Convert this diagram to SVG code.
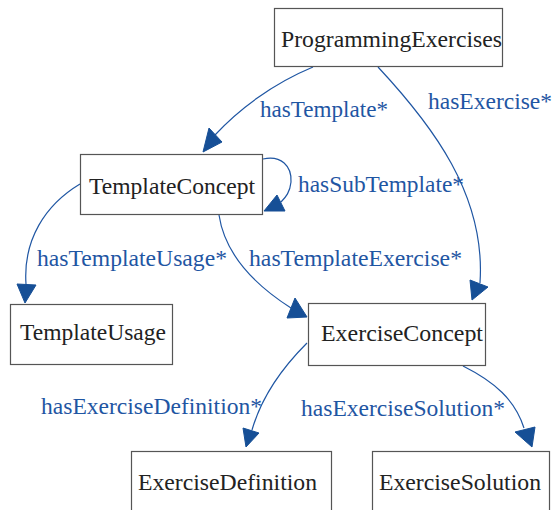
<svg xmlns="http://www.w3.org/2000/svg" width="555" height="510" viewBox="0 0 555 510">
<style>
.box{fill:#ffffff;stroke:#555555;stroke-width:1.2}
.nt{font-family:"Liberation Serif","Times New Roman",serif;font-size:24px;fill:#222222}
.lt{font-family:"Liberation Serif","Times New Roman",serif;font-size:24px;fill:#1f56a3}
.edge{fill:none;stroke:#1f56a3;stroke-width:1.2}
.head{fill:#164f96;stroke:#164f96;stroke-width:1}
</style>
<rect width="555" height="510" fill="#ffffff"/>
<g id="connectors">
  <g id="e-hasTemplate">
    <path class="edge" d="M313,67 C272,84 238,110 215,135"/>
    <polygon class="head" points="209,128 222,142 203,152"/>
    <text class="lt" x="260" y="117" textLength="128" lengthAdjust="spacingAndGlyphs">hasTemplate*</text>
  </g>
  <g id="e-hasExercise">
    <path class="edge" d="M378,67 C432,125 486,195 480,283"/>
    <polygon class="head" points="470,280 488,287 472,300"/>
    <text class="lt" x="428" y="109" textLength="124" lengthAdjust="spacingAndGlyphs">hasExercise*</text>
  </g>
  <g id="e-hasSubTemplate">
    <path class="edge" d="M263,159 C281,155 292,166 291,182 C290,192 286,197 281,202"/>
    <polygon class="head" points="277,195 285,211 264,211"/>
    <text class="lt" x="298" y="192" textLength="166" lengthAdjust="spacingAndGlyphs">hasSubTemplate*</text>
  </g>
  <g id="e-hasTemplateUsage">
    <path class="edge" d="M80,184 C45,205 23,240 26,284"/>
    <polygon class="head" points="17,284 36,285 25,303"/>
    <text class="lt" x="37" y="266" textLength="190" lengthAdjust="spacingAndGlyphs">hasTemplateUsage*</text>
  </g>
  <g id="e-hasTemplateExercise">
    <path class="edge" d="M219,215 C225,255 255,285 291,308"/>
    <polygon class="head" points="295,298 287,318 307,317"/>
    <text class="lt" x="249" y="266" textLength="213" lengthAdjust="spacingAndGlyphs">hasTemplateExercise*</text>
  </g>
  <g id="e-hasExerciseDefinition">
    <path class="edge" d="M307,343 C285,365 262,395 252,430"/>
    <polygon class="head" points="243,428 259,433 246,447"/>
    <text class="lt" x="41" y="414" textLength="221" lengthAdjust="spacingAndGlyphs">hasExerciseDefinition*</text>
  </g>
  <g id="e-hasExerciseSolution">
    <path class="edge" d="M463,366 C495,382 515,400 524,428"/>
    <polygon class="head" points="515,432 535,427 532,447"/>
    <text class="lt" x="301" y="416" textLength="204" lengthAdjust="spacingAndGlyphs">hasExerciseSolution*</text>
  </g>
</g>
<g id="ProgrammingExercises">
  <rect class="box" x="274.5" y="8.5" width="228" height="58"/>
  <text class="nt" x="281" y="47" textLength="221" lengthAdjust="spacingAndGlyphs">ProgrammingExercises</text>
</g>
<g id="TemplateConcept">
  <rect class="box" x="80.5" y="154.5" width="182" height="60"/>
  <text class="nt" x="89" y="194" textLength="166" lengthAdjust="spacingAndGlyphs">TemplateConcept</text>
</g>
<g id="TemplateUsage">
  <rect class="box" x="10.5" y="304.5" width="162" height="60"/>
  <text class="nt" x="20" y="340" textLength="146" lengthAdjust="spacingAndGlyphs">TemplateUsage</text>
</g>
<g id="ExerciseConcept">
  <rect class="box" x="308.5" y="303.5" width="177" height="62"/>
  <text class="nt" x="321" y="341" textLength="162" lengthAdjust="spacingAndGlyphs">ExerciseConcept</text>
</g>
<g id="ExerciseDefinition">
  <rect class="box" x="131.5" y="451.5" width="200" height="64"/>
  <text class="nt" x="138" y="490" textLength="179" lengthAdjust="spacingAndGlyphs">ExerciseDefinition</text>
</g>
<g id="ExerciseSolution">
  <rect class="box" x="372.5" y="451.5" width="177" height="64"/>
  <text class="nt" x="379" y="490" textLength="162" lengthAdjust="spacingAndGlyphs">ExerciseSolution</text>
</g>
</svg>
